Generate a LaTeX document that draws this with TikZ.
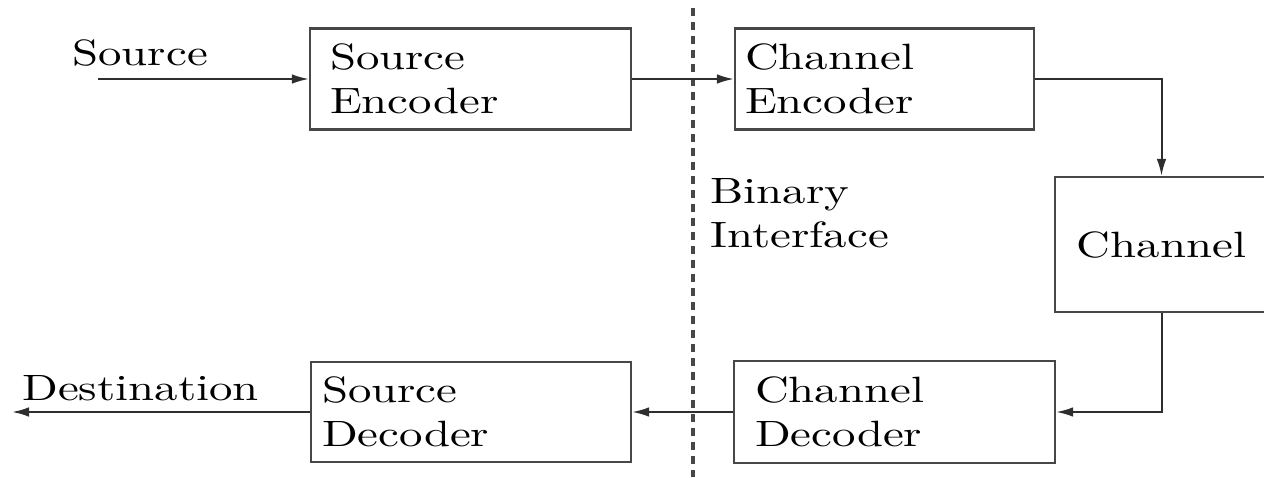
\documentclass[tikz,border=0pt]{standalone}
\usepackage{fontspec}
\newfontfamily\lmstretch[FakeStretch=1.28]{lmroman10-regular.otf}
\usetikzlibrary{arrows.meta}
\tikzset{
  lbl/.style={font=\lmstretch\fontsize{18.3pt}{22pt}\selectfont, text=black},
  blk/.style={lbl, draw=black!72, line width=1.1pt, rectangle, align=left, inner ysep=0pt},
  arr/.style={draw=black!82, line width=1.0pt, -{Latex[length=8.5pt,width=4.8pt]}},
  iface/.style={draw=black!72, line width=1.6pt, dash pattern=on 4pt off 3pt}
}
\begin{document}
\begin{tikzpicture}[x=0.5pt,y=-0.5pt]
\useasboundingbox (0,0) rectangle (1264,477);
% blocks
\node[blk, minimum height=50.5pt, inner xsep=10pt, text width=140.5pt] (se) at (470.5,79) {Source\\Encoder};
\node[blk, minimum height=50.5pt, inner xsep=5pt, text width=139.5pt] (ce) at (884.5,79) {Channel\\Encoder};
\node[blk, minimum width=106.5pt, minimum height=67.5pt, align=center] (ch) at (1161.5,244.5) {Channel};
\node[blk, minimum height=51pt, inner xsep=10.5pt, text width=139.5pt] (cd) at (894.5,412) {Channel\\Decoder};
\node[blk, minimum height=50pt, inner xsep=5.5pt, text width=149pt] (sd) at (471,412) {Source\\Decoder};
% labels
\node[lbl, anchor=base west, inner sep=0pt] (srclbl) at (72,65) {Source};
\node[lbl, anchor=base west, inner sep=0pt] (dstlbl) at (22,400) {Destination};
\node[lbl, anchor=north west, inner sep=0pt, align=left] (bi) at (710,178) {Binary\\Interface};
% binary interface line
\coordinate (itop) at (693,8);
\coordinate (ibot) at (693,477);
\draw[iface] (itop) -- (ibot);
% connectors
\coordinate (src) at (98,79);
\coordinate (dst) at (12,412);
\draw[arr] (src) -- (se.west);
\draw[arr] (se.east) -- (ce.west);
\draw[arr] (ce.east) -| (ch.north);
\draw[arr] (ch.south) |- (cd.east);
\draw[arr] (cd.west) -- (sd.east);
\draw[arr] (sd.west) -- (dst);
\end{tikzpicture}
\end{document}
